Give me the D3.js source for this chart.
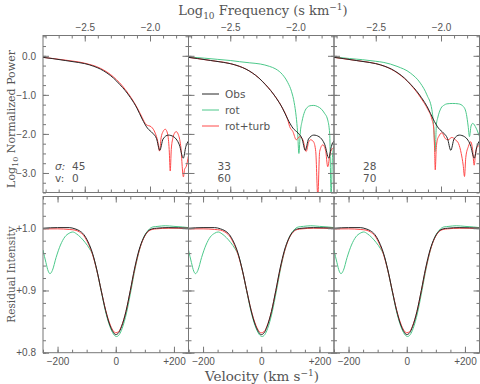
<!DOCTYPE html>
<html>
<head>
<meta charset="utf-8">
<script src="https://cdn.jsdelivr.net/npm/d3@7"></script>
<style>
  body { margin: 0; background: #fff; }
  svg { display: block; }
</style>
</head>
<body>
<svg id="chart" width="480" height="384"></svg>
<script>
// ---- data ----
const sigmaVals = [45, 33, 28];
const vsiniVals = [0, 60, 70];
const freqTicks = [-2.5, -2.0];
const powerTicks = [0, -1, -2, -3];
const velTicks = [-200, 0, 200];
const intensTicks = [0.8, 0.9, 1.0];
const legendNames = ['Obs', 'rot', 'rot+turb'];

// log10 frequency vs log10 normalized power
const obsPower = [[-2.82,-0.04],[-2.75,-0.07],[-2.65,-0.12],[-2.55,-0.17],[-2.50,-0.20],[-2.43,-0.27],[-2.38,-0.34],[-2.33,-0.44],[-2.28,-0.57],[-2.23,-0.74],[-2.19,-0.89],[-2.15,-1.07],[-2.10,-1.34],[-2.06,-1.62],[-2.02,-1.85],[-1.98,-1.98],[-1.95,-2.12],[-1.925,-2.42],[-1.90,-2.13],[-1.86,-2.03],[-1.82,-2.07],[-1.80,-2.13],[-1.775,-2.28],[-1.745,-2.62],[-1.725,-2.32],[-1.705,-2.18]];

const rotPower = [
  null,
  [[-2.82,-0.03],[-2.70,-0.06],[-2.60,-0.09],[-2.50,-0.12],[-2.43,-0.15],[-2.35,-0.18],[-2.27,-0.21],[-2.20,-0.27],[-2.15,-0.34],[-2.10,-0.48],[-2.06,-0.68],[-2.03,-0.92],[-2.01,-1.20],[-1.995,-1.55],[-1.984,-1.95],[-1.974,-2.50],[-1.963,-1.95],[-1.95,-1.68],[-1.93,-1.43],[-1.91,-1.32],[-1.89,-1.28],[-1.86,-1.27],[-1.83,-1.30],[-1.80,-1.37],[-1.778,-1.47],[-1.755,-1.62],[-1.738,-2.0],[-1.727,-3.6],[-1.717,-2.6],[-1.705,-2.3]],
  [[-2.82,-0.03],[-2.70,-0.07],[-2.60,-0.10],[-2.50,-0.14],[-2.438,-0.17],[-2.337,-0.27],[-2.235,-0.44],[-2.158,-0.70],[-2.108,-1.0],[-2.07,-1.38],[-2.055,-1.85],[-2.045,-2.45],[-2.035,-1.75],[-2.026,-1.60],[-2.00,-1.34],[-1.975,-1.26],[-1.955,-1.23],[-1.91,-1.22],[-1.866,-1.23],[-1.828,-1.30],[-1.805,-1.50],[-1.792,-1.80],[-1.782,-2.07],[-1.77,-1.80],[-1.757,-1.73],[-1.731,-1.85],[-1.705,-2.07]]
];

const turbPower = [
  [[-2.82,-0.04],[-2.65,-0.11],[-2.50,-0.19],[-2.38,-0.32],[-2.28,-0.54],[-2.19,-0.86],[-2.10,-1.32],[-2.06,-1.58],[-2.03,-1.76],[-1.99,-1.82],[-1.96,-1.98],[-1.94,-2.2],[-1.927,-2.44],[-1.915,-2.1],[-1.90,-1.94],[-1.883,-1.88],[-1.865,-2.0],[-1.853,-2.4],[-1.845,-2.95],[-1.837,-2.4],[-1.825,-2.11],[-1.81,-1.97],[-1.80,-1.94],[-1.785,-2.0],[-1.765,-2.3],[-1.744,-3.1],[-1.735,-2.9],[-1.723,-2.84],[-1.705,-2.55]],
  [[-2.82,-0.04],[-2.65,-0.12],[-2.50,-0.20],[-2.38,-0.34],[-2.28,-0.57],[-2.19,-0.89],[-2.10,-1.34],[-2.06,-1.63],[-2.045,-1.81],[-2.02,-1.94],[-1.994,-2.15],[-1.969,-2.07],[-1.944,-2.15],[-1.918,-2.45],[-1.90,-2.22],[-1.885,-2.15],[-1.862,-2.2],[-1.845,-2.45],[-1.829,-3.6],[-1.815,-2.45],[-1.791,-2.28],[-1.77,-2.41],[-1.753,-2.84],[-1.735,-2.5],[-1.715,-2.37],[-1.705,-2.35]],
  [[-2.82,-0.04],[-2.65,-0.12],[-2.50,-0.20],[-2.43,-0.27],[-2.33,-0.45],[-2.23,-0.75],[-2.15,-1.10],[-2.10,-1.38],[-2.07,-1.62],[-2.056,-1.85],[-2.05,-2.3],[-2.044,-2.92],[-2.037,-2.4],[-2.028,-2.15],[-2.018,-2.07],[-1.993,-1.97],[-1.967,-2.12],[-1.945,-2.15],[-1.917,-2.09],[-1.89,-2.15],[-1.865,-2.25],[-1.845,-2.5],[-1.83,-2.8],[-1.82,-3.09],[-1.81,-2.6],[-1.79,-2.32],[-1.772,-2.2],[-1.758,-2.4],[-1.746,-2.8],[-1.735,-2.5],[-1.72,-2.32],[-1.705,-2.3]]
];

// velocity (km/s) vs residual intensity, same in all three lower panels
const obsProfile = [[-250,1.000],[-200,1.001],[-160,1.001],[-140,0.999],[-125,0.996],[-110,0.990],[-95,0.978],[-80,0.960],[-65,0.933],[-50,0.900],[-35,0.868],[-20,0.844],[-10,0.834],[0,0.829],[10,0.832],[20,0.842],[35,0.866],[50,0.900],[65,0.936],[80,0.965],[95,0.984],[110,0.995],[125,0.999],[140,1.000],[180,1.001],[250,1.000]];
const turbProfile = [[-250,0.999],[-200,0.999],[-160,0.998],[-140,0.997],[-125,0.994],[-110,0.988],[-95,0.976],[-80,0.958],[-65,0.932],[-50,0.900],[-35,0.869],[-20,0.846],[-10,0.836],[0,0.832],[10,0.834],[20,0.843],[35,0.866],[50,0.899],[65,0.934],[80,0.963],[95,0.983],[110,0.994],[125,0.998],[140,0.999],[180,1.000],[250,1.000]];
const rotProfile = [[-250,0.965],[-240,0.945],[-232,0.931],[-226,0.927],[-218,0.932],[-205,0.953],[-190,0.973],[-175,0.986],[-160,0.992],[-148,0.994],[-135,0.991],[-120,0.985],[-105,0.977],[-90,0.967],[-78,0.956],[-65,0.932],[-50,0.899],[-35,0.866],[-20,0.842],[-8,0.830],[3,0.826],[12,0.829],[22,0.839],[37,0.864],[52,0.899],[67,0.936],[82,0.966],[97,0.986],[112,0.997],[127,1.002],[145,1.003],[170,1.004],[200,1.003],[230,1.002],[250,1.001]];

// ---- layout ----
const panelLeft = [43, 188.5, 334], panelW = 145.5;
const topY = [35.5, 192.5], botY = [196.5, 352.7];
const colObs = '#262626', colRot = '#4cc88a', colTurb = '#ff4a4a';
const frameCol = '#777', textCol = '#555';
const sansFont = 'Liberation Sans, Arial, sans-serif';
const labelFont = 'DejaVu Sans, sans-serif';
const serifFont = 'DejaVu Serif, serif';

const svg = d3.select('#chart');
const minus = d => (d < 0 ? '\u2212' : '') ;
const fmt1 = d => minus(d) + Math.abs(d).toFixed(1);
const fmtVel = d => d > 0 ? '+' + d : d < 0 ? '\u2212' + (-d) : '0';
const fmtInt = d => '+' + d.toFixed(1);

function styleAxis(g){
  g.select('.domain').remove();
  g.selectAll('line').attr('stroke', frameCol);
  g.selectAll('text').attr('fill', textCol).attr('font-family', sansFont).attr('font-size', 10);
}

// draw ticks on all four sides pointing in
function drawFrame(g, x, y, o){
  const [x0, x1] = x.range(), [yb, yt] = y.range();
  const sides = [
    {ax: d3.axisTop, s: x, t: `translate(0,${yt})`, major: o.xMajor, minor: o.xMinor, fmt: o.xTop ? o.xFmt : '' , pad: 5},
    {ax: d3.axisBottom, s: x, t: `translate(0,${yb})`, major: o.xMajor, minor: o.xMinor, fmt: o.xBottom ? o.xFmt : '', pad: 5},
    {ax: d3.axisLeft, s: y, t: `translate(${x0},0)`, major: o.yMajor, minor: o.yMinor, fmt: o.yLabel ? o.yFmt : '', pad: 7},
    {ax: d3.axisRight, s: y, t: `translate(${x1},0)`, major: o.yMajor, minor: o.yMinor, fmt: '', pad: 5}
  ];
  sides.forEach(sd => {
    g.append('g').attr('transform', sd.t)
      .call(sd.ax(sd.s).tickValues(sd.minor).tickSize(-3).tickSizeOuter(0).tickFormat(''))
      .call(styleAxis);
    g.append('g').attr('transform', sd.t)
      .call(sd.ax(sd.s).tickValues(sd.major).tickSize(-6).tickSizeOuter(0).tickPadding(sd.pad).tickFormat(sd.fmt))
      .call(styleAxis);
  });
  g.append('rect').attr('x', x0).attr('y', yt).attr('width', x1 - x0).attr('height', yb - yt)
    .attr('fill', 'none').attr('stroke', frameCol).attr('stroke-width', 1);
}

function drawLines(g, x, y, id, series){
  g.append('clipPath').attr('id', id).append('rect')
    .attr('x', x.range()[0]).attr('y', y.range()[1])
    .attr('width', x.range()[1] - x.range()[0]).attr('height', y.range()[0] - y.range()[1]);
  const line = d3.line().x(d => x(d[0])).y(d => y(d[1])).curve(d3.curveMonotoneX);
  const lg = g.append('g').attr('clip-path', `url(#${id})`);
  series.forEach(s => {
    if (!s.data) return;
    lg.append('path').attr('d', line(s.data)).attr('fill', 'none')
      .attr('stroke', s.col).attr('stroke-width', 1);
  });
}

const freqMinor = d3.range(-2.8, -1.7, 0.1).map(v => +v.toFixed(2));
const powerMinor = d3.range(-3.5, 0.51, 0.25);
const velMinor = d3.range(-250, 251, 50);
const intensMinor = d3.range(0.8, 1.051, 0.02).map(v => +v.toFixed(2));

panelLeft.forEach((L, i) => {
  // upper row: power spectra
  const xf = d3.scaleLinear().domain([-2.82, -1.705]).range([L, L + panelW]);
  const yp = d3.scaleLinear().domain([-3.5, 0.52]).range(topY.slice().reverse());
  const gt = svg.append('g');
  drawLines(gt, xf, yp, 'clipT' + i, [
    {data: rotPower[i], col: colRot},
    {data: turbPower[i], col: colTurb},
    {data: obsPower, col: colObs}
  ]);
  drawFrame(gt, xf, yp, {xMajor: freqTicks, xMinor: freqMinor, xFmt: fmt1, xTop: true,
    yMajor: powerTicks, yMinor: powerMinor, yFmt: fmt1, yLabel: i === 0});

  // parameter labels
  const ann = gt.append('g').attr('font-family', labelFont).attr('font-size', 10.5).attr('fill', textCol);
  if (i === 0){
    ann.append('text').attr('x', L + 12).attr('y', 169.5).attr('font-style', 'italic').text('\u03c3:');
    ann.append('text').attr('x', L + 12).attr('y', 182).text('v:');
  }
  ann.append('text').attr('x', L + 29).attr('y', 169.5).text(sigmaVals[i]);
  ann.append('text').attr('x', L + 29).attr('y', 182).text(vsiniVals[i]);

  // lower row: line profiles
  const xv = d3.scaleLinear().domain([-250, 250]).range([L, L + panelW]);
  const yi = d3.scaleLinear().domain([0.8, 1.051]).range(botY.slice().reverse());
  const gb = svg.append('g');
  drawLines(gb, xv, yi, 'clipB' + i, [
    {data: rotProfile, col: colRot},
    {data: turbProfile, col: colTurb},
    {data: obsProfile, col: colObs}
  ]);
  drawFrame(gb, xv, yi, {xMajor: velTicks, xMinor: velMinor, xFmt: fmtVel, xBottom: true,
    yMajor: intensTicks, yMinor: intensMinor, yFmt: fmtInt, yLabel: i === 0});
});

// legend in middle upper panel
const lgX = 202, lgY = [94, 110, 126], lgCols = [colObs, colRot, colTurb];
const legend = svg.append('g');
legendNames.forEach((n, k) => {
  legend.append('line').attr('x1', lgX).attr('x2', lgX + 17).attr('y1', lgY[k]).attr('y2', lgY[k])
    .attr('stroke', lgCols[k]).attr('stroke-width', 1);
  legend.append('text').attr('x', lgX + 23).attr('y', lgY[k] + 4)
    .attr('font-family', labelFont).attr('font-size', 10.5).attr('fill', textCol).text(n);
});

// axis titles
const titleTop = svg.append('text').attr('x', 263).attr('y', 15).attr('text-anchor', 'middle')
  .attr('font-family', serifFont).attr('font-size', 13).attr('fill', textCol);
titleTop.append('tspan').text('Log');
titleTop.append('tspan').attr('dy', 4).attr('font-size', 9).text('10');
titleTop.append('tspan').attr('dy', -4).text(' Frequency (s km');
titleTop.append('tspan').attr('dy', -5).attr('font-size', 9).text('\u22121');
titleTop.append('tspan').attr('dy', 5).text(')');

const titleBot = svg.append('text').attr('x', 262).attr('y', 381).attr('text-anchor', 'middle')
  .attr('font-family', serifFont).attr('font-size', 13.5).attr('fill', textCol);
titleBot.append('tspan').text('Velocity (km s');
titleBot.append('tspan').attr('dy', -5).attr('font-size', 9).text('\u22121');
titleBot.append('tspan').attr('dy', 5).text(')');

const yTitle1 = svg.append('text').attr('transform', 'translate(15,119) rotate(-90)').attr('text-anchor', 'middle')
  .attr('font-family', serifFont).attr('font-size', 11).attr('fill', textCol);
yTitle1.append('tspan').text('Log');
yTitle1.append('tspan').attr('dy', 3).attr('font-size', 8).text('10');
yTitle1.append('tspan').attr('dy', -3).text(' Normalized Power');

svg.append('text').attr('transform', 'translate(15,274.5) rotate(-90)').attr('text-anchor', 'middle')
  .attr('font-family', serifFont).attr('font-size', 10.5).attr('fill', textCol).text('Residual Intensity');
</script>
</body>
</html>
